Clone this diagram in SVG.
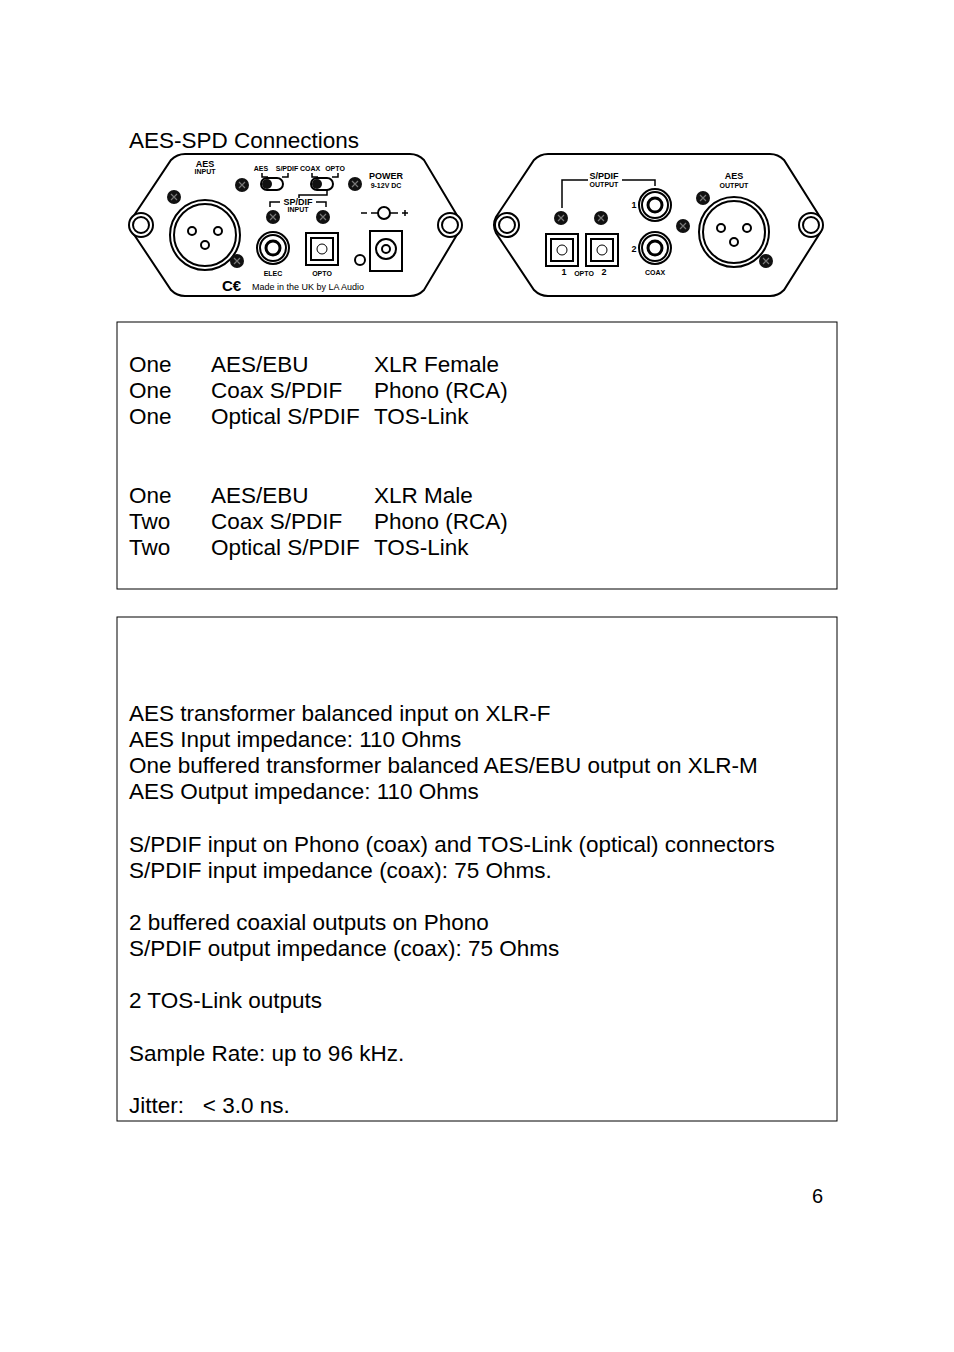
<svg xmlns="http://www.w3.org/2000/svg" width="954" height="1352" viewBox="0 0 954 1352">
<style>
text{font-family:"Liberation Sans",Arial,sans-serif;fill:#000}
.t{font-size:22.5px}
.s{font-size:7px;font-weight:bold;text-anchor:middle}
.m{font-size:9px;font-weight:bold;text-anchor:middle}
.o{fill:#fff;stroke:#000;stroke-width:2}
.l{fill:none;stroke:#000;stroke-width:1.5}
.k{fill:#111}
.box{fill:#fff;stroke:#000;stroke-width:1}
</style>
<defs>
<g id="screw"><circle r="7" class="k"/><path d="M-3,-3L3,3M3,-3L-3,3" stroke="#777" stroke-width="1.2"/></g>
<g id="hole"><circle r="12" class="o"/><circle r="8" class="o"/></g>
<g id="rca"><circle r="16" class="o"/><circle r="13" class="o"/><circle r="7" fill="#fff" stroke="#000" stroke-width="3"/></g>
<g id="opto"><rect x="-16" y="-16" width="32" height="32" class="o"/><rect x="-11" y="-11" width="22" height="22" class="o" stroke-width="1.2"/><circle r="5" fill="#fff" stroke="#000"/></g>
<g id="xlr"><circle r="35" class="o"/><circle r="31" class="o"/><circle cx="-13" cy="-4" r="4" class="o"/><circle cx="13" cy="-4" r="4" class="o"/><circle cx="0" cy="10" r="4" class="o"/></g>
<g id="sw"><rect x="-11" y="-6" width="22" height="12" rx="6" class="o"/></g>
</defs>
<rect width="954" height="1352" fill="#fff"/>
<text class="t" x="129" y="148">AES-SPD Connections</text>

<g id="input-panel">
<path d="M185,154H410Q418,154 424,160L458,217Q463,225 458,233L424,290Q418,296 410,296H185Q177,296 171,290L133,233Q128,225 133,217L171,160Q177,154 185,154Z" class="o"/>
<use href="#hole" x="141" y="225"/><use href="#hole" x="450" y="225"/>
<use href="#xlr" x="205" y="235"/>
<use href="#screw" x="174" y="197"/><use href="#screw" x="237" y="261"/>
<use href="#screw" x="242" y="185"/><use href="#screw" x="273" y="217"/><use href="#screw" x="323" y="217"/><use href="#screw" x="355" y="184"/>
<use href="#sw" x="272" y="184"/><circle cx="267" cy="184" r="5" class="k"/>
<use href="#sw" x="322" y="184"/><circle cx="317" cy="184" r="5" class="k"/>
<path d="M262,173V177H268M282,177H288V173M312,173V177H318M332,177H338V173" class="l" stroke-width="1"/>
<path d="M327,190V195H299V198M270,207V202H280M316,202H326V207" class="l" stroke-width="1"/>
<text class="m" x="205" y="167">AES</text><text class="s" x="205" y="174" font-size="6">INPUT</text>
<text class="s" x="261" y="171">AES</text><text class="s" x="287" y="171">S/PDIF</text><text class="s" x="310" y="171">COAX</text><text class="s" x="335" y="171">OPTO</text>
<text class="m" x="386" y="179">POWER</text><text class="s" x="386" y="188" font-size="6">9-12V DC</text>
<text class="m" x="298" y="205">SP/DIF</text><text class="s" x="298" y="212" font-size="6">INPUT</text>
<use href="#rca" x="273" y="248"/><use href="#opto" x="322" y="249"/>
<rect x="370" y="231" width="32" height="40" class="o"/><circle cx="386" cy="249" r="10" class="o"/><circle cx="386" cy="249" r="4" class="o"/>
<circle cx="360" cy="260" r="5" class="o" stroke-width="1.5"/>
<path d="M361,213H367M371,213H378M390,213H398M402,213H408M405,210V216" class="l"/><circle cx="384" cy="213" r="6" class="o"/>
<text class="s" x="273" y="276">ELEC</text><text class="s" x="322" y="276">OPTO</text>
<text x="222" y="291" font-size="15" font-weight="bold">C€</text>
<text x="252" y="290" font-size="9">Made in the UK by LA Audio</text>
</g>

<g id="output-panel">
<path d="M548,154H770Q778,154 784,160L820,217Q824,225 820,233L784,290Q778,296 770,296H548Q540,296 534,290L496,233Q492,225 496,217L534,160Q540,154 548,154Z" class="o"/>
<use href="#hole" x="507" y="225"/><use href="#hole" x="811" y="225"/>
<use href="#xlr" x="734" y="232"/>
<use href="#screw" x="703" y="198"/><use href="#screw" x="766" y="261"/><use href="#screw" x="683" y="226"/>
<use href="#screw" x="561" y="218"/><use href="#screw" x="601" y="218"/>
<use href="#opto" x="562" y="250"/><use href="#opto" x="602" y="250"/>
<use href="#rca" x="655" y="205"/><use href="#rca" x="655" y="248"/>
<path d="M562,208V180H588M622,180H655V186" class="l"/>
<text class="m" x="604" y="179">S/PDIF</text><text class="s" x="604" y="187" font-size="6">OUTPUT</text>
<text class="m" x="734" y="179">AES</text><text class="s" x="734" y="188" font-size="6">OUTPUT</text>
<text class="m" x="634" y="208">1</text><text class="m" x="634" y="252">2</text>
<text class="s" x="655" y="275">COAX</text>
<text class="m" x="564" y="275">1</text><text class="s" x="584" y="276">OPTO</text><text class="m" x="604" y="275">2</text>
</g>

<g id="connectors-box">
<rect class="box" x="117" y="322" width="720" height="267"/>
<text class="t" x="129" y="372">One</text><text class="t" x="211" y="372">AES/EBU</text><text class="t" x="374" y="372">XLR Female</text>
<text class="t" x="129" y="398">One</text><text class="t" x="211" y="398">Coax S/PDIF</text><text class="t" x="374" y="398">Phono (RCA)</text>
<text class="t" x="129" y="424">One</text><text class="t" x="211" y="424">Optical S/PDIF</text><text class="t" x="374" y="424">TOS-Link</text>
<text class="t" x="129" y="503">One</text><text class="t" x="211" y="503">AES/EBU</text><text class="t" x="374" y="503">XLR Male</text>
<text class="t" x="129" y="529">Two</text><text class="t" x="211" y="529">Coax S/PDIF</text><text class="t" x="374" y="529">Phono (RCA)</text>
<text class="t" x="129" y="555">Two</text><text class="t" x="211" y="555">Optical S/PDIF</text><text class="t" x="374" y="555">TOS-Link</text>
</g>

<g id="spec-box">
<rect class="box" x="117" y="617" width="720" height="504"/>
<text class="t" x="129" y="721">AES transformer balanced input on XLR-F</text>
<text class="t" x="129" y="747">AES Input impedance: 110 Ohms</text>
<text class="t" x="129" y="773">One buffered transformer balanced AES/EBU output on XLR-M</text>
<text class="t" x="129" y="799">AES Output impedance: 110 Ohms</text>
<text class="t" x="129" y="852">S/PDIF input on Phono (coax) and TOS-Link (optical) connectors</text>
<text class="t" x="129" y="878">S/PDIF input impedance (coax): 75 Ohms.</text>
<text class="t" x="129" y="930">2 buffered coaxial outputs on Phono</text>
<text class="t" x="129" y="956">S/PDIF output impedance (coax): 75 Ohms</text>
<text class="t" x="129" y="1008">2 TOS-Link outputs</text>
<text class="t" x="129" y="1061">Sample Rate: up to 96 kHz.</text>
<text class="t" x="129" y="1113" xml:space="preserve">Jitter:   &lt; 3.0 ns.</text>
</g>
<text x="812" y="1203" font-size="20">6</text>
</svg>
